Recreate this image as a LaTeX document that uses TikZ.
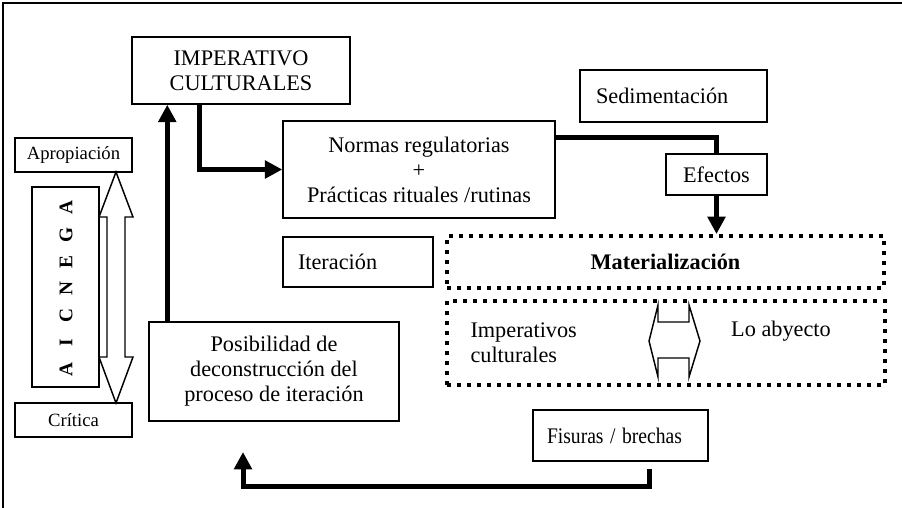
\documentclass[tikz,border=0pt]{standalone}
\usepackage{fontspec}
\setmainfont{Liberation Serif}
\usepackage{tikz}
\usetikzlibrary{arrows.meta}
\tikzset{every picture/.style={line width=0.75pt}}
\newcommand{\txtsz}{\fontsize{16.7}{18.75}\selectfont}
\newcommand{\smallsz}{\fontsize{14}{16}\selectfont}

\begin{document}
\begin{tikzpicture}[x=0.75pt,y=0.75pt,yscale=-1,xscale=1,
  box/.style={draw, line width=1.1pt, inner sep=0pt, align=center, font=\txtsz},
  leftbox/.style={box, align=left, text width=#1},
  smallbox/.style={box, font=\smallsz, minimum width=87.75pt, minimum height=25.5pt},
  dotbox/.style={draw, line width=3pt, dash pattern=on 3pt off 4.5pt, inner sep=0pt, align=center, font=\txtsz},
  fatline/.style={line width=3.75pt},
  fatarrow/.style={fatline, -{Triangle[length=13pt,width=13pt]}}]
\useasboundingbox (0,0) rectangle (902,507);
%Frame
\draw [line width=1.1pt] (3,3) rectangle (920,520);

%Boxes
\node [box, minimum width=163.5pt, minimum height=50.25pt] (imp) at (241,70.5) {IMPERATIVO\\CULTURALES};
\node [box, minimum width=204pt, minimum height=72.75pt] (nor) at (419,169.5) {Normas regulatorias\\+\\Prácticas rituales /rutinas};
\node [leftbox=140.25pt, minimum height=39pt] (sed) at (673.5,96) {\hspace*{12pt}Sedimentación};
\node [box, minimum width=75.75pt, minimum height=30.75pt] (efe) at (716.5,174.5) {Efectos};
\node [leftbox=112.5pt, minimum height=37.5pt] (ite) at (358,262) {\hspace*{11.25pt}Iteración};
\node [box, minimum width=187.5pt, minimum height=74.25pt] (pos) at (274,371.5) {Posibilidad de\\deconstrucción del\\proceso de iteración};
\node [leftbox=131.25pt, minimum height=38.25pt] (fis) at (620.5,435.5) {\hspace*{10.5pt}\scalebox{0.88}[1]{Fisuras / brechas}};

%Agencia
\node [smallbox] (apr) at (73.5,155) {Apropiación};
\node [smallbox] (cri) at (73.5,420) {Crítica};
\node [box, minimum width=50.25pt, minimum height=150pt] (age) at (65.5,287) {};
\foreach \l [count=\i] in {A,G,E,N,C,I,A}
  \node [rotate=90, inner sep=0pt, font=\fontsize{14.5}{14.5}\selectfont\bfseries] (age\i) at (66,181+27*\i) {\l};
\draw [line width=1.1pt, fill=white] (116,172) -- (133,217) -- (125,217) -- (125,357) -- (133,357) -- (116,403) -- (99,357) -- (107,357) -- (107,217) -- (99,217) -- cycle;

%Dotted boxes
\node [dotbox, minimum width=327.75pt, minimum height=39pt] (mat) at (665.5,262) {\bfseries Materialización};
\node [dotbox, minimum width=328.5pt, minimum height=63pt] (obj) at (666,343) {};
\node [font=\txtsz, align=left, anchor=west, inner sep=0pt] (impc) at (470,342.5) {Imperativos\\culturales};
\node [font=\txtsz, inner sep=0pt] (abj) at (781,331) {Lo abyecto};
\draw [line width=1.1pt] (649,341) -- (658,305) -- (658,322) -- (689,322) -- (689,305) -- (700,341) -- (689,377) -- (689,358) -- (658,358) -- (658,377) -- cycle;

%Connectors
\draw [fatarrow] ([xshift=14.25pt]pos.north west) -- ([xshift=14.25pt]pos.north west |- imp.south);
\draw [fatarrow] ([xshift=51pt]imp.south west) |- (nor.west);
\draw [fatline] ([yshift=12.75pt]nor.north east) -| (efe.north);
\draw [fatarrow] (efe.south) -- (efe.south |- mat.north);
\coordinate (fisout) at ([xshift=22pt,yshift=5.25pt]fis.south);
\coordinate (posin) at (243,452);
\draw [fatarrow] (fisout) -- ++(0,18) -| (posin);
\end{tikzpicture}
\end{document}
